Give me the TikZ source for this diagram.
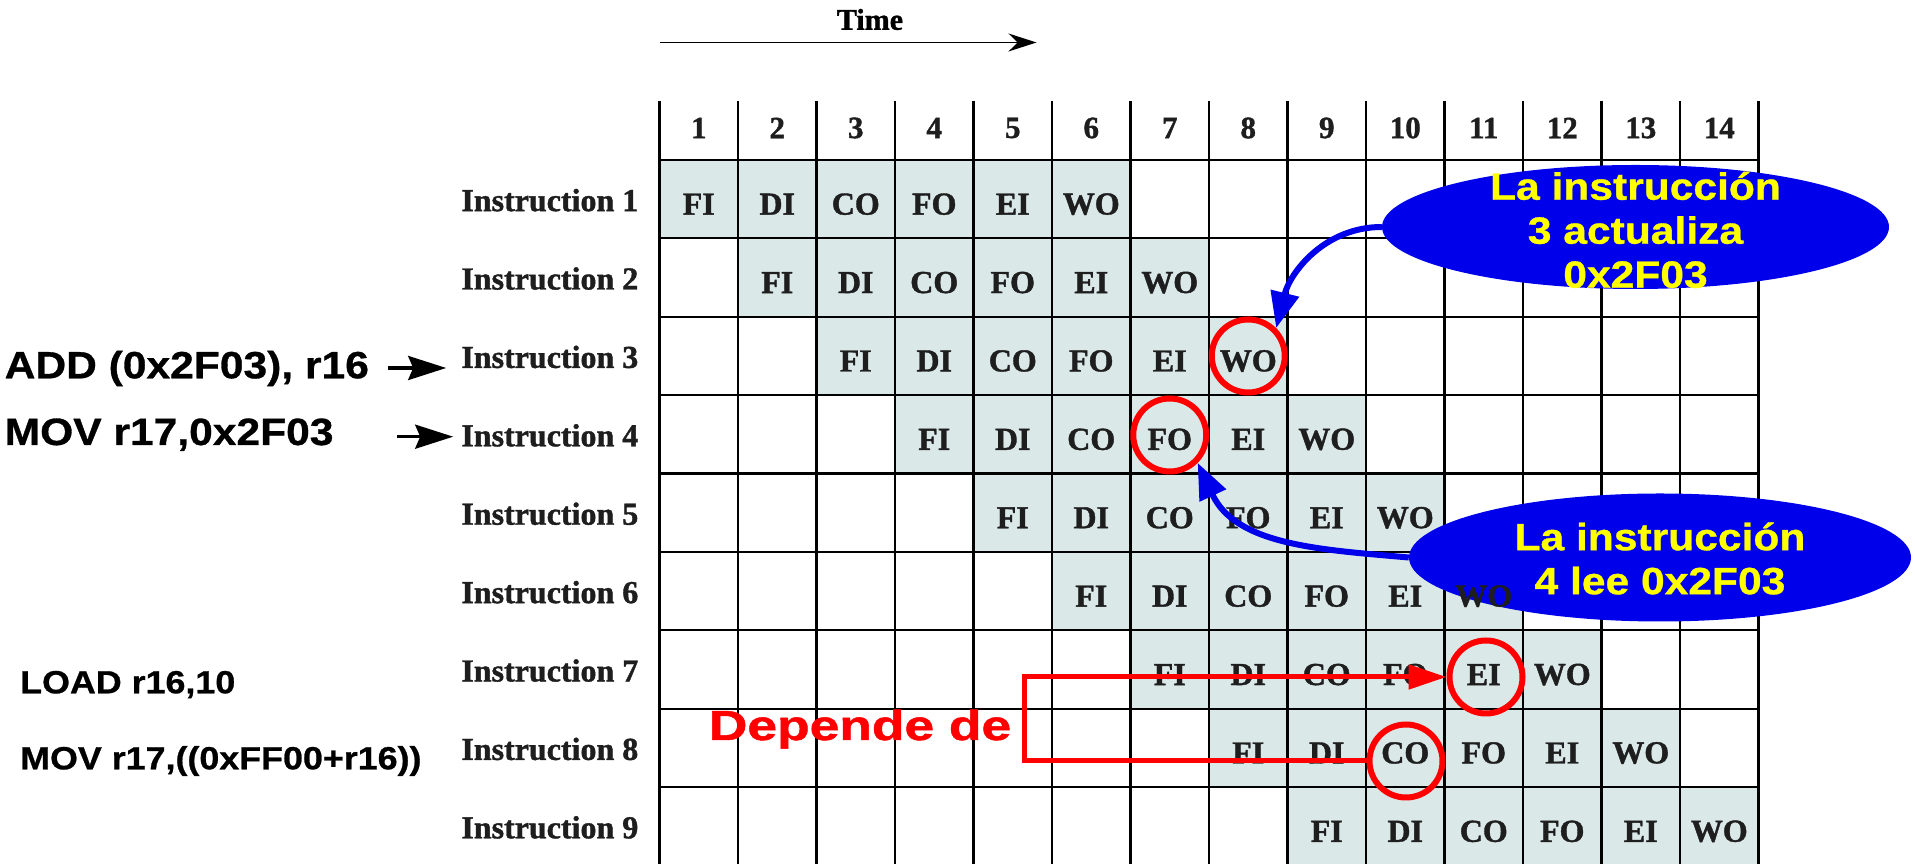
\documentclass[tikz,border=0pt]{standalone}
\usepackage{fontspec}
\setmainfont{Liberation Serif}[BoldFeatures={FakeBold=1.2}]
\newfontfamily\wsans{Liberation Sans}[FakeStretch=1.12, BoldFeatures={FakeBold=0.8}]
\newfontfamily\dsans{Liberation Sans}[FakeStretch=1.27, BoldFeatures={FakeBold=1.2}]
\usetikzlibrary{shapes.geometric,arrows.meta,calc}
\definecolor{cellbg}{RGB}{218,232,232}
\definecolor{ebl}{RGB}{0,0,235}
\definecolor{txt}{RGB}{30,30,30}
\definecolor{yel}{RGB}{255,255,0}
\begin{document}
\begin{tikzpicture}[x=1pt,y=1pt,
  stagetxt/.style={font=\fontsize{32}{36}\selectfont\bfseries, text=txt, inner sep=0pt},
  hdr/.style={font=\fontsize{31}{36}\selectfont\bfseries, text=txt, inner sep=0pt},
  instr/.style={font=\fontsize{32}{36}\selectfont\bfseries, text=txt, anchor=east, inner sep=0pt},
  gridline/.style={line width=2.2pt, black},
  blueell/.style={ellipse, fill=ebl, inner sep=0pt},
  elltxt/.style={align=center, text=yel, inner sep=0pt, font=\fontsize{38}{44}\wsans\bfseries},
  codetxt/.style={anchor=base west, inner sep=0pt},
  redcirc/.style={circle, draw=red, line width=6pt, minimum size=73pt, inner sep=0pt},
  redline/.style={draw=red, line width=5pt, -{Triangle[length=38pt,width=24pt]}},
  bluearr/.style={draw=ebl, line width=6pt, -{Triangle[length=36pt,width=28pt]}},
  smallarr/.style={line width=3.5pt, -{Stealth[length=38pt,width=24pt,inset=5pt]}}
]
\useasboundingbox (0,0) rectangle (1915,864);
\begin{scope}
\clip (0,0) rectangle (1915,864);
% shaded cells
\foreach \r in {1,...,9} {
  \foreach \k in {0,...,5} {
    \pgfmathsetmacro\c{\r+\k}
    \fill[cellbg] ({659.5+78.5*(\c-1)},{704-78.4*\r}) rectangle ++(78.5,78.4);
  }
}
% grid
\foreach \i in {0,...,14}
  \draw[gridline] ({659.5+78.5*\i},763) -- ({659.5+78.5*\i},0);
\foreach \k in {0,...,8}
  \draw[gridline] (659.5,{704-78.4*\k}) -- (1758.5,{704-78.4*\k});
\end{scope}

% ellipses
\node[blueell, minimum width=507pt, minimum height=124pt] (e1) at (1635.5,637) {};
\node[blueell, minimum width=502pt, minimum height=128pt] (e2) at (1660,306.5) {};

% time
\node[font=\fontsize{30}{34}\selectfont\bfseries, inner sep=0pt] (time) at (870,844.5) {Time};
\coordinate (t0) at (659.5,821.5);
\coordinate (t1) at (1036.5,821.5);
\draw[line width=1.5pt, -{Stealth[length=28pt,width=18pt]}] (t0) -- (t1);

% header numbers
\foreach \c in {1,...,14}
  \node[hdr] (h\c) at ({620.25+78.5*\c},736) {\c};

% instruction labels
\foreach \r in {1,...,9}
  \node[instr] (i\r) at (638.5,{743.2-78.4*\r-1}) {Instruction \r};

% stage texts
\foreach \r in {1,...,9} {
  \foreach \lab [count=\k from 0] in {FI,DI,CO,FO,EI,WO} {
    \pgfmathtruncatemacro\c{\r+\k}
    \node[stagetxt] (s\r-\c) at ({620.25+78.5*\c},{738.2-78.4*\r}) {\lab};
  }
}

% left code text
\node[codetxt, font=\fontsize{38}{44}\wsans\bfseries] (add) at (4.5,485.7) {ADD (0x2F03), r16};
\node[codetxt, font=\fontsize{38}{44}\wsans\bfseries] (mov1) at (4.5,419) {MOV r17,0x2F03};
\node[codetxt, font=\fontsize{32}{38}\wsans\bfseries] (load) at (20,170.7) {LOAD r16,10};
\node[codetxt, font=\fontsize{32}{38}\wsans\bfseries] (mov2) at (20,94.7) {MOV r17,((0xFF00+r16))};
\coordinate (a3) at (388,496);
\coordinate (a4) at (397,427.3);
\draw[smallarr, shorten >=15pt] (a3) -- (a3 -| i3.west);
\draw[smallarr, shorten >=8pt] (a4) -- (a4 -| i4.west);

% red circles and dependence bracket
\node[redcirc] (cwo) at (1248.25,508) {};
\node[redcirc] (cfo) at (1169.75,429) {};
\node[redcirc] (cei) at (1486,187) {};
\node[redcirc] (cco) at (1406,103) {};
\coordinate (bk) at (1024.4,0);
\draw[redline] (cco.west) -- (cco.west -| bk) |- (cei.west);
\node[codetxt, text=red, font=\fontsize{42}{48}\dsans\bfseries] (dep) at (708.7,124) {Depende de};

% blue arrows
\draw[bluearr] (e1.west) to[out=180,in=76] (cwo.45);
\draw[bluearr] (e2.west) to[out=175,in=-65] (cfo.-45);

% ellipse texts
\node[elltxt] (e1t) at (1635.5,634) {La instrucción\\3 actualiza\\0x2F03};
\node[elltxt] (e2t) at (1660,305.5) {La instrucción\\4 lee 0x2F03};
\end{tikzpicture}
\end{document}
